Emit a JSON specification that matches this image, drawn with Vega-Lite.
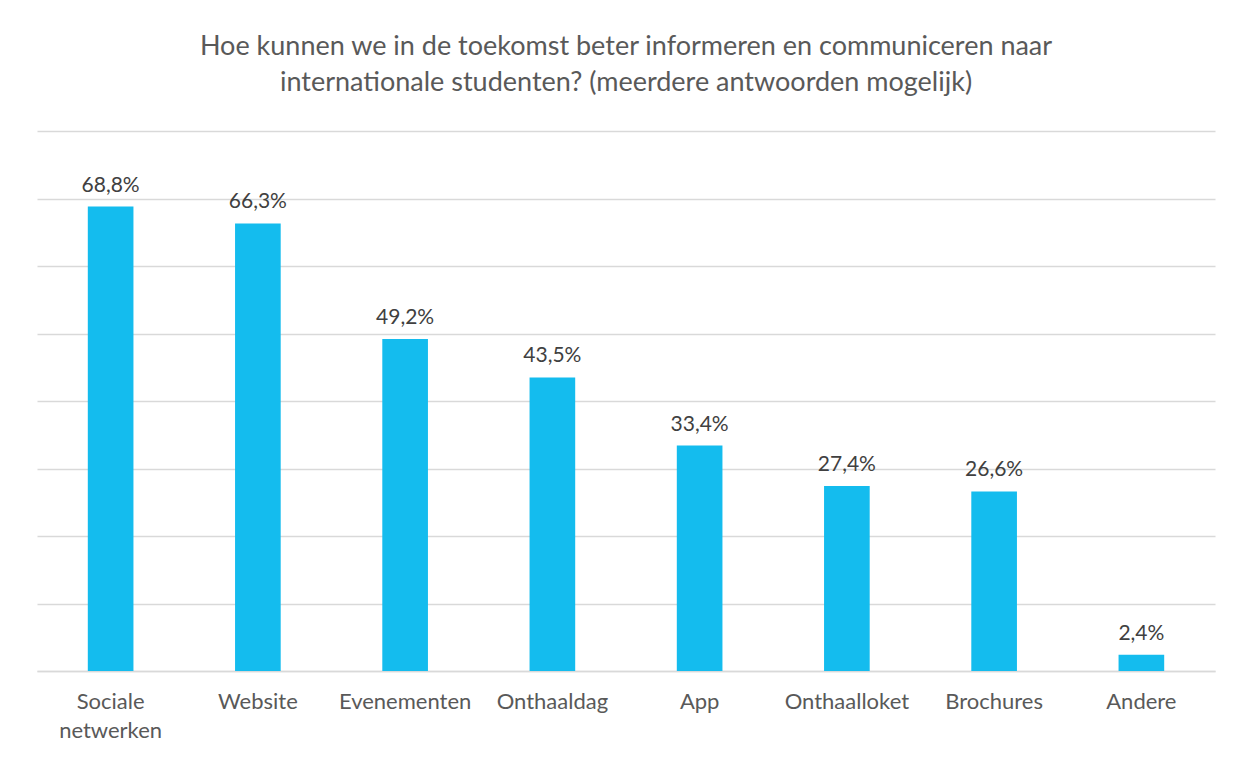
{
  "$schema": "https://vega.github.io/schema/vega-lite/v6.json",
  "width": 1178,
  "height": 540,
  "autosize": {"type": "none"},
  "padding": {"left": 37, "top": 131, "right": 26, "bottom": 87},
  "background": "white",
  "config": {
    "locale": {"number": {"decimal": ",", "thousands": ".", "grouping": [3], "currency": ["€", ""]}},
    "view": {"stroke": null},
    "font": "Lato"
  },
  "title": {
    "text": ["Hoe kunnen we in de toekomst beter informeren en communiceren naar", "internationale studenten? (meerdere antwoorden mogelijk)"],
    "anchor": "middle",
    "frame": "group",
    "font": "Lato",
    "fontSize": 27,
    "fontWeight": "normal",
    "color": "#595959",
    "lineHeight": 36,
    "offset": 34
  },
  "data": {
    "values": [
      {"categorie": "Sociale netwerken", "aandeel": 0.688},
      {"categorie": "Website", "aandeel": 0.663},
      {"categorie": "Evenementen", "aandeel": 0.492},
      {"categorie": "Onthaaldag", "aandeel": 0.435},
      {"categorie": "App", "aandeel": 0.334},
      {"categorie": "Onthaalloket", "aandeel": 0.274},
      {"categorie": "Brochures", "aandeel": 0.266},
      {"categorie": "Andere", "aandeel": 0.024}
    ]
  },
  "encoding": {
    "x": {
      "field": "categorie",
      "type": "nominal",
      "sort": null,
      "scale": {"paddingInner": 0.69, "paddingOuter": 0.345},
      "axis": {
        "title": null,
        "labelAngle": 0,
        "labelFont": "Lato",
        "labelFontSize": 22,
        "labelColor": "#595959",
        "labelPadding": 20,
        "labelLineHeight": 29,
        "labelBaseline": "top",
        "ticks": false,
        "domainColor": "#d9d9d9",
        "domainWidth": 1.5,
        "labelExpr": "datum.value == 'Sociale netwerken' ? ['Sociale', 'netwerken'] : datum.value"
      }
    },
    "y": {
      "field": "aandeel",
      "type": "quantitative",
      "scale": {"domain": [0, 0.8]},
      "axis": {
        "title": null,
        "labels": false,
        "ticks": false,
        "domain": false,
        "values": [0, 0.1, 0.2, 0.3, 0.4, 0.5, 0.6, 0.7, 0.8],
        "gridColor": "#d9d9d9",
        "gridWidth": 1.5
      }
    }
  },
  "layer": [
    {"mark": {"type": "bar", "color": "#14BCEE"}},
    {
      "mark": {"type": "text", "baseline": "bottom", "dy": -11, "font": "Lato", "fontSize": 21, "color": "#404040"},
      "encoding": {"text": {"field": "aandeel", "type": "quantitative", "format": ".1%"}}
    }
  ]
}
